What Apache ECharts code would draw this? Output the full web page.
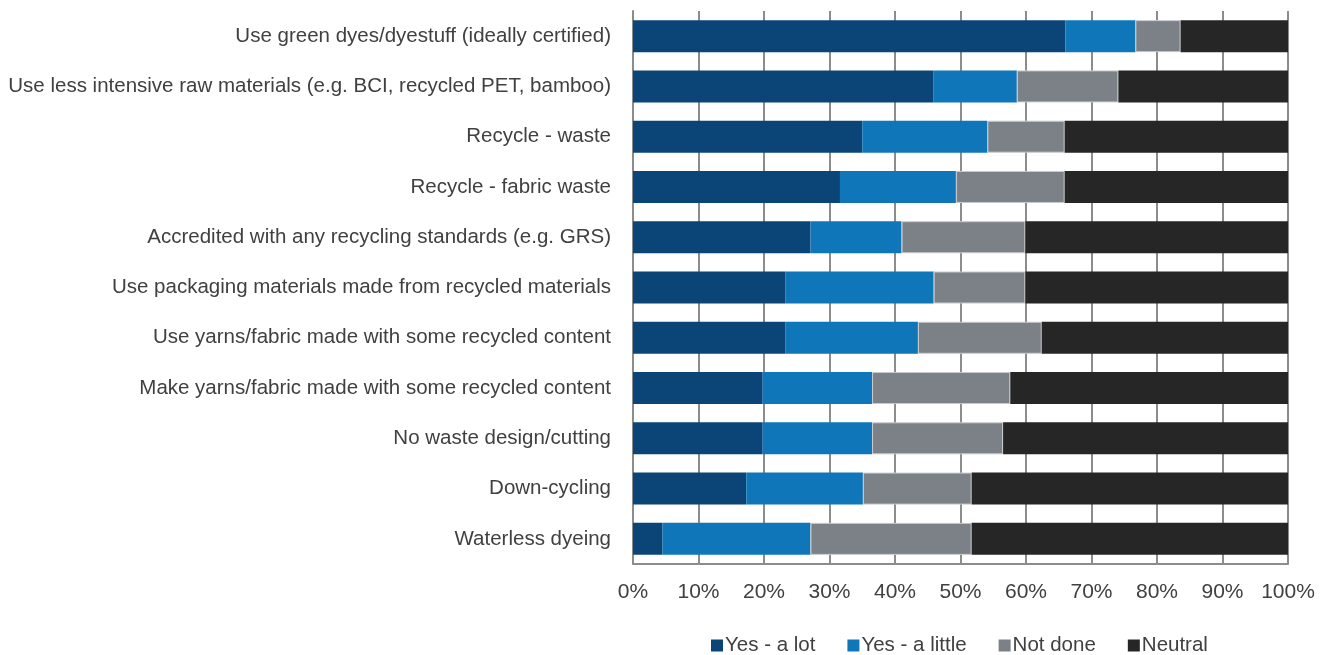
<!DOCTYPE html>
<html>
<head>
<meta charset="utf-8">
<script src="https://cdn.jsdelivr.net/npm/echarts@6/dist/echarts.min.js"></script>
<style>html,body{margin:0;padding:0;background:#fff}#c{width:1330px;height:655px}</style>
</head>
<body>
<div id="c"></div>
<script>
var categories = [
  "Use green dyes/dyestuff (ideally certified)",
  "Use less intensive raw materials (e.g. BCI, recycled PET, bamboo)",
  "Recycle - waste",
  "Recycle - fabric waste",
  "Accredited with any recycling standards (e.g. GRS)",
  "Use packaging materials made from recycled materials",
  "Use yarns/fabric made with some recycled content",
  "Make yarns/fabric made with some recycled content",
  "No waste design/cutting",
  "Down-cycling",
  "Waterless dyeing"
];
var yesALot    = [66.0, 45.9, 35.0, 31.6, 27.1, 23.3, 23.3, 19.8, 19.8, 17.3, 4.5];
var yesALittle = [10.7, 12.7, 19.1, 17.7, 13.9, 22.6, 20.2, 16.7, 16.7, 17.8, 22.6];
var notDone    = [6.9, 15.5, 11.8, 16.6, 18.9, 14.0, 18.9, 21.1, 20.0, 16.6, 24.6];
var neutral    = [16.4, 25.9, 34.1, 34.1, 40.1, 40.1, 37.6, 42.4, 43.5, 48.3, 48.3];
var seriesNames = ["Yes - a lot", "Yes - a little", "Not done", "Neutral"];
var xTicks = [0, 10, 20, 30, 40, 50, 60, 70, 80, 90, 100];

var colors = ["#0b4577", "#0f77b9", "#7c8187", "#262626"];
var font = "'Liberation Sans', Arial, sans-serif";
var chart = echarts.init(document.getElementById('c'), null, {renderer: 'canvas'});
var dataSets = [yesALot, yesALittle, notDone, neutral];
var series = seriesNames.map(function (n, i) {
  return {
    name: n,
    type: 'bar',
    stack: 'total',
    data: dataSets[i],
    barWidth: 32,
    itemStyle: {
      color: colors[i],
      borderColor: i === 2 ? '#c8cacc' : colors[i],
      borderWidth: i === 2 ? 1 : 0
    }
  };
});
chart.setOption({
  animation: false,
  backgroundColor: '#ffffff',
  grid: {left: 633, right: 42, top: 11, bottom: 91, containLabel: false},
  legend: {
    data: seriesNames,
    left: 711,
    top: 635,
    padding: 0,
    itemWidth: 12,
    itemHeight: 12,
    itemGap: 32,
    icon: 'rect',
    itemStyle: {borderWidth: 0},
    textStyle: {fontFamily: font, fontSize: 20.5, color: '#404040', padding: [0, 0, 0, -3]}
  },
  xAxis: {
    type: 'value',
    min: xTicks[0],
    max: xTicks[xTicks.length - 1],
    interval: 10,
    axisLine: {show: true, lineStyle: {color: '#8c8c8c', width: 2}},
    axisTick: {show: false},
    splitLine: {show: true, lineStyle: {color: '#8c8c8c', width: 2}},
    axisLabel: {
      formatter: '{value}%',
      fontFamily: font,
      fontSize: 21,
      color: '#404040',
      margin: 18
    }
  },
  yAxis: {
    type: 'category',
    data: categories,
    inverse: true,
    axisLine: {show: true, lineStyle: {color: '#8c8c8c', width: 2}},
    axisTick: {show: false},
    axisLabel: {
      fontFamily: font,
      fontSize: 20.5,
      color: '#404040',
      margin: 22
    }
  },
  series: series
});
</script>
</body>
</html>
